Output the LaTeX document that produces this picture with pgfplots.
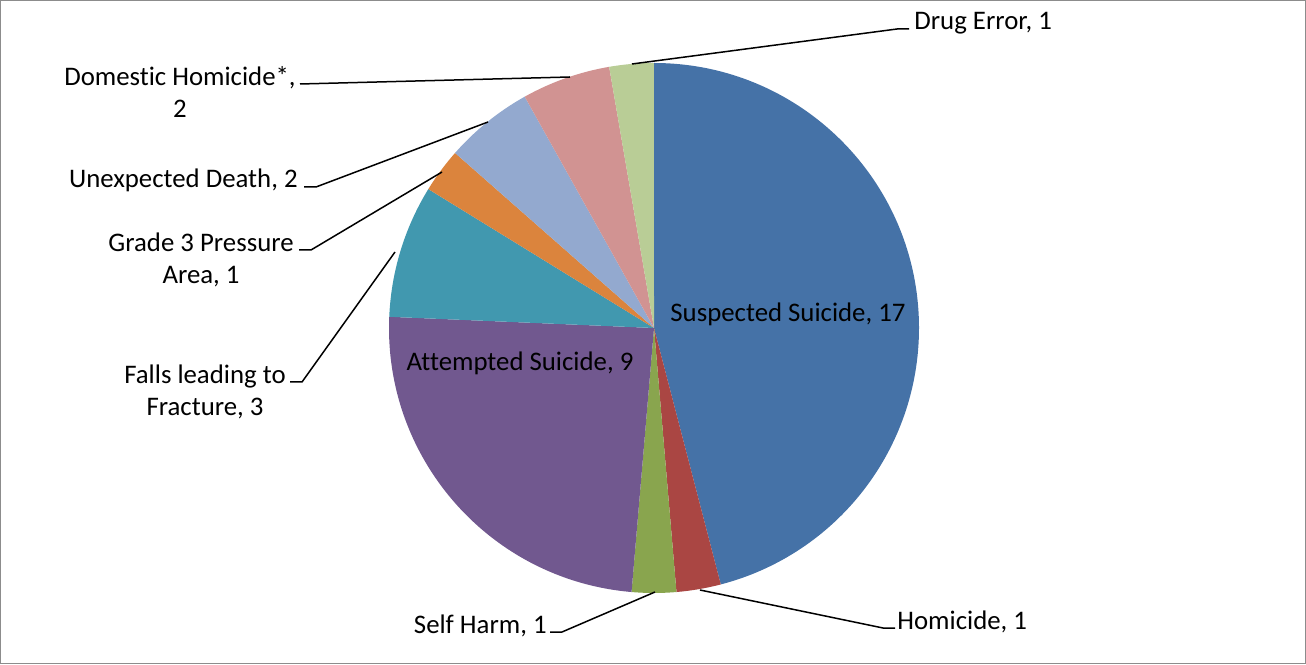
\documentclass[border=0pt]{standalone}
\usepackage{pgfplots}
\pgfplotsset{compat=1.18}
\usepackage{pgfplotstable}
\usepackage{fontspec}
\setmainfont[RawFeature={-liga;-clig;-calt;-dlig}]{Carlito}

\definecolor{pc0}{HTML}{4572A7}
\definecolor{pc1}{HTML}{AA4643}
\definecolor{pc2}{HTML}{89A54E}
\definecolor{pc3}{HTML}{71588F}
\definecolor{pc4}{HTML}{4198AF}
\definecolor{pc5}{HTML}{DB843D}
\definecolor{pc6}{HTML}{93A9CF}
\definecolor{pc7}{HTML}{D19392}
\definecolor{pc8}{HTML}{B9CD96}

% Suspected Suicide, Homicide, Self Harm, Attempted Suicide, Falls leading to Fracture,
% Grade 3 Pressure Area, Unexpected Death, Domestic Homicide*, Drug Error
\pgfplotstableread{
idx value
0 17
1 1
2 1
3 9
4 3
5 1
6 2
7 2
8 1
}\piedata

\def\total{0}
\pgfplotsforeachungrouped \i in {0,...,8}{%
  \pgfplotstablegetelem{\i}{value}\of\piedata
  \pgfmathsetmacro\total{\total+\pgfplotsretval}%
}
\def\cum{90}
\pgfplotsforeachungrouped \i in {0,...,8}{%
  \pgfplotstablegetelem{\i}{value}\of\piedata
  \pgfmathsetmacro\nxt{\cum-\pgfplotsretval/\total*360}%
  \expandafter\xdef\csname sa\i\endcsname{\cum}%
  \expandafter\xdef\csname ea\i\endcsname{\nxt}%
  \xdef\cum{\nxt}%
}

\begin{document}
\begin{tikzpicture}[lbl/.style={font=\fontsize{13.4}{16}\selectfont, text=black, inner sep=0pt}]
\begin{axis}[
  scale only axis, width=653pt, height=332pt,
  xmin=0, xmax=1306, ymin=0, ymax=664,
  hide axis, clip=false,
]
\pgfplotsinvokeforeach{0,...,8}{
  \fill[pc#1] (axis cs:654,336) -- ++(\csname sa#1\endcsname:132.5pt)
     arc[start angle=\csname sa#1\endcsname, end angle=\csname ea#1\endcsname, radius=132.5pt] -- cycle;
}
\draw[color=black!45, line width=0.5pt] (axis cs:0.5,0.5) rectangle (axis cs:1305.5,663.5);

% inside labels
\node[lbl, anchor=base] at (axis cs:788,342) {Suspected Suicide, 17};
\node[lbl, anchor=base] at (axis cs:520,293) {Attempted Suicide, 9};

% leader lines
\begin{scope}[line width=0.75pt]
\draw (axis cs:632,600) -- (axis cs:897,635) -- (axis cs:909,635);
\draw (axis cs:570,587) -- (axis cs:300,580);
\draw (axis cs:488,542) -- (axis cs:316,477) -- (axis cs:304,477);
\draw (axis cs:442,492) -- (axis cs:311,414) -- (axis cs:299,414);
\draw (axis cs:395,412) -- (axis cs:302,282) -- (axis cs:290,282);
\draw (axis cs:655,72) -- (axis cs:562,32) -- (axis cs:550,32);
\draw (axis cs:700,74) -- (axis cs:883,36) -- (axis cs:895,36);
\end{scope}

% outside labels
\node[lbl, anchor=base west] at (axis cs:914,634) {Drug Error, 1};
\node[lbl, anchor=base] at (axis cs:180,578) {Domestic Homicide*,};
\node[lbl, anchor=base] at (axis cs:180,546) {2};
\node[lbl, anchor=base east] at (axis cs:298,476) {Unexpected Death, 2};
\node[lbl, anchor=base] at (axis cs:201,412) {Grade 3 Pressure};
\node[lbl, anchor=base] at (axis cs:201,380) {Area, 1};
\node[lbl, anchor=base] at (axis cs:205,280) {Falls leading to};
\node[lbl, anchor=base] at (axis cs:205,248) {Fracture, 3};
\node[lbl, anchor=base east] at (axis cs:547,31) {Self Harm, 1};
\node[lbl, anchor=base west] at (axis cs:897,35) {Homicide, 1};
\end{axis}
\end{tikzpicture}
\end{document}
